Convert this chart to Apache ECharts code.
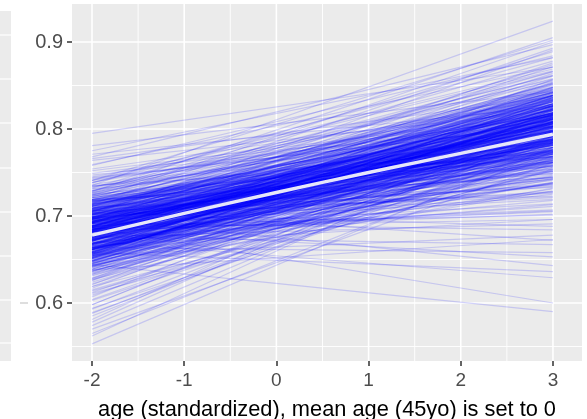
<!DOCTYPE html>
<html>
<head>
<meta charset="utf-8">
<script src="https://cdn.jsdelivr.net/npm/echarts@6/dist/echarts.min.js"></script>
<style>
html,body{margin:0;padding:0;background:#ffffff;}
#chart{width:587px;height:419px;}
</style>
</head>
<body>
<div id="chart"></div>
<script>
// ---- data ----
const xTicks = [-2, -1, 0, 1, 2, 3];
const xMinor = [-1.5, -0.5, 0.5, 1.5, 2.5];
const yTicks = [0.6, 0.7, 0.8, 0.9];
const yMinor = [0.55, 0.65, 0.75, 0.85];
const xTitle = 'age (standardized), mean age (45yo) is set to 0';

// each posterior draw: value at x = -2 (drawStart) and at x = 3 (drawEnd)
const drawX = [-2, 3];
const drawStart = [
.702,.665,.688,.721,.643,.676,.739,.655,.694,.617,.683,.711,.648,.699,.759,
.672,.706,.633,.689,.727,.658,.598,.681,.714,.662,.693,.641,.745,.676,.622,
.685,.717,.651,.697,.669,.732,.637,.703,.679,.626,.709,.664,.692,.647,.724,
.574,.691,.656,.719,.674,.638,.704,.686,.661,.741,.699,.652,.612,.679,.729,
.667,.696,.642,.713,.684,.657,.723,.631,.701,.674,.645,.708,.754,.688,.619,
.694,.663,.726,.681,.649,.711,.604,.671,.735,.659,.697,.636,.718,.683,.653,
.677,.705,.644,.687,.716,.662,.628,.693,.671,.738,.654,.708,.682,.646,.722,
.661,.689,.741,.634,.702,.675,.715,.651,.696,.585,.668,.729,.642,.684,.706,
.673,.699,.657,.718,.639,.686,.764,.666,.703,.627,.691,.649,.712,.678,.734,
.655,.694,.682,.723,.641,.707,.669,.615,.688,.731,.652,.698,.676,.643,.714,
.687,.664,.709,.633,.679,.743,.658,.696,.672,.621,.701,.648,.725,.684,.593,
.668,.705,.645,.691,.719,.662,.683,.637,.711,.676,.752,.654,.695,.628,.704,
.681,.717,.659,.693,.638,.672,.729,.649,.702,.686,.565,.663,.736,.697,.675,
.652,.698,.685,.722,.644,.709,.667,.614,.692,.679,.747,.657,.713,.632,.689,
.671,.706,.639,.684,.727,.661,.697,.648,.718,.676,.603,.693,.656,.733,.682,
.694,.665,.711,.646,.688,.758,.673,.701,.629,.683,.716,.654,.696,.669,.724,
.678,.703,.641,.691,.659,.714,.685,.619,.699,.672,.738,.651,.707,.687,.664,
.697,.662,.721,.681,.636,.709,.675,.744,.653,.692,.578,.687,.726,.645,.702,
.669,.712,.656,.693,.731,.677,.624,.699,.685,.661,.717,.643,.689,.706,.674,
.688,.658,.703,.647,.679,.766,.694,.635,.716,.671,.698,.607,.682,.728,.663,
.701,.673,.734,.654,.691,.682,.719,.642,.696,.666,.589,.708,.677,.649,.725,
.684,.653,.712,.676,.695,.639,.705,.668,.749,.687,.626,.698,.661,.715,.683,
.795,.781,.775,.771,.768,.735,.553,.562,.570,.581,.588,.611,.609,.594,.598,
.728,.741,.719,.702,.644,.686,.671,.658,.697,.683,.664,.707,.676,.692,.655,
.681,.664,.697,.672,.709,.653,.688,.676,.701,.659,.692,.668,.714,.684,.647,
.673,.695,.661,.686,.705,.649,.679,.718,.666,.691,.656,.683,.699,.671,.688,
.667,.703,.677,.651,.694,.685,.662,.711,.674,.698,.643,.689,.658,.706,.679,
.693,.668,.682,.707,.655,.676,.699,.664,.721,.687,.671,.652,.696,.678,.713,
.684,.659,.701,.673,.692,.646,.687,.715,.669,.681,.704,.663,.675,.697,.656,
.677,.698,.665,.689,.709,.672,.654,.694,.683,.717,.661,.679,.702,.668,.691,
.686,.671,.705,.657,.693,.678,.699,.663,.688,.724,.674,.696,.652,.682,.708,
.669,.691,.676,.713,.659,.685,.702,.667,.694,.648,.681,.697,.673,.706,.662,
.692,.675,.658,.698,.684,.711,.666,.689,.679,.703,.655,.687,.672,.695,.719,
.663,.687,.709,.677,.694,.651,.682,.699,.668,.716,.686,.674,.692,.657,.704,
.679,.696,.664,.701,.684,.671,.707,.659,.689,.676,.698,.645,.682,.712,.667,
.688,.673,.714,.661,.697,.683,.653,.705,.678,.692,.667,.701,.685,.674,.721,
.676,.693,.668,.704,.681,.657,.698,.672,.711,.687,.662,.695,.679,.706,.651,
.691,.666,.684,.701,.677,.719,.662,.694,.673,.689,.708,.656,.685,.699,.671,
.683,.705,.669,.692,.658,.687,.674,.713,.696,.663,.681,.702,.677,.648,.694,
.672,.697,.686,.665,.709,.679,.693,.655,.688,.703,.668,.717,.682,.661,.699
];
const drawEnd = [
.812,.774,.843,.795,.758,.803,.826,.731,.788,.817,.769,.852,.742,.806,.871,
.785,.838,.764,.701,.819,.793,.807,.748,.866,.776,.822,.729,.835,.691,.781,
.827,.757,.799,.846,.713,.889,.771,.814,.753,.790,.831,.737,.802,.768,.858,
.796,.779,.822,.744,.809,.673,.849,.764,.786,.815,.727,.833,.798,.758,.878,
.762,.818,.801,.791,.738,.857,.774,.783,.841,.711,.805,.767,.829,.796,.752,
.808,.745,.862,.781,.824,.723,.789,.836,.768,.813,.754,.797,.844,.706,.778,
.817,.771,.739,.854,.793,.806,.825,.761,.799,.882,.784,.733,.819,.772,.839,
.798,.826,.869,.787,.744,.811,.776,.834,.762,.792,.725,.815,.782,.853,.749,
.803,.736,.787,.842,.769,.696,.821,.808,.775,.759,.861,.794,.829,.741,.807,
.832,.788,.754,.810,.773,.847,.718,.766,.837,.784,.801,.726,.819,.756,.893,
.779,.815,.763,.799,.842,.804,.747,.876,.791,.823,.735,.811,.772,.828,.795,
.766,.851,.791,.719,.834,.782,.808,.761,.825,.743,.817,.797,.864,.777,.688,
.812,.768,.836,.794,.732,.821,.857,.785,.749,.803,.774,.827,.816,.759,.839,
.789,.814,.707,.846,.771,.796,.829,.753,.872,.783,.809,.738,.822,.765,.801,
.743,.831,.792,.764,.855,.806,.728,.818,.787,.841,.776,.811,.751,.833,.782,
.809,.772,.797,.738,.826,.884,.755,.843,.791,.702,.818,.779,.804,.761,.848,
.823,.757,.808,.785,.839,.769,.714,.797,.832,.814,.867,.746,.793,.816,.728,
.801,.835,.774,.819,.786,.852,.763,.803,.771,.838,.812,.745,.828,.794,.781,
.737,.806,.823,.759,.861,.798,.776,.817,.734,.789,.845,.767,.807,.722,.813,
.792,.829,.751,.804,.775,.837,.816,.762,.799,.848,.783,.821,.705,.866,.788,
.818,.756,.795,.833,.742,.809,.787,.773,.824,.696,.779,.856,.802,.765,.831,
.773,.811,.842,.784,.721,.797,.874,.808,.815,.766,.827,.752,.784,.803,.839,
.871,.843,.882,.826,.897,.924,.779,.806,.761,.823,.793,.754,.784,.769,.812,
.905,.902,.900,.891,.590,.600,.629,.636,.643,.653,.658,.672,.667,.684,.678,
.803,.781,.822,.795,.768,.814,.789,.836,.776,.808,.751,.827,.798,.784,.817,
.792,.818,.773,.806,.839,.786,.811,.762,.829,.797,.782,.845,.771,.813,.802,
.824,.779,.807,.791,.815,.762,.832,.799,.787,.848,.809,.774,.821,.794,.769,
.786,.811,.828,.774,.802,.839,.791,.817,.805,.758,.826,.796,.781,.843,.812,
.819,.797,.766,.834,.804,.788,.851,.775,.813,.793,.829,.764,.807,.782,.823,
.798,.821,.784,.808,.772,.835,.816,.789,.826,.803,.778,.841,.795,.812,.761,
.809,.792,.827,.815,.783,.847,.801,.776,.831,.794,.818,.768,.806,.838,.787,
.814,.779,.803,.822,.796,.771,.842,.808,.785,.819,.799,.833,.774,.811,.791,
.783,.825,.807,.797,.836,.769,.813,.802,.848,.788,.824,.776,.817,.806,.794,
.821,.804,.776,.838,.792,.811,.829,.785,.803,.818,.767,.832,.798,.814,.781,
.799,.816,.788,.773,.827,.806,.842,.795,.812,.784,.837,.803,.819,.791,.809,
.805,.831,.789,.817,.778,.823,.801,.853,.793,.815,.786,.826,.774,.808,.797,
.816,.787,.809,.828,.795,.821,.772,.806,.839,.798,.813,.782,.826,.801,.779,
.793,.812,.834,.781,.818,.806,.796,.823,.787,.845,.802,.817,.775,.829,.808,
.807,.786,.824,.799,.815,.771,.836,.803,.792,.819,.788,.811,.833,.797,.784,
.819,.805,.777,.829,.813,.794,.822,.808,.789,.834,.801,.785,.816,.827,.798
];

// mean curve (white)
const meanX = [-2, -1, 0, 1, 2, 3];
const meanY = [0.678, 0.703, 0.727, 0.750, 0.772, 0.794];

// ---- chart ----
const X_MIN = -2.217, X_MAX = 3.315, Y_MIN = 0.53333, Y_MAX = 0.94368;
const chart = echarts.init(document.getElementById('chart'), null, {renderer: 'canvas'});

const series = [];
// panel grid lines (white), drawn under the draws
function gridSeries(points, width) {
  return {type: 'line', data: points, symbol: 'none', showSymbol: false, silent: true, z: 1,
    lineStyle: {color: '#ffffff', width: width, type: 'solid'}};
}
xTicks.forEach(v => series.push(gridSeries([[v, Y_MIN], [v, Y_MAX]], 1.6)));
xMinor.forEach(v => series.push(gridSeries([[v, Y_MIN], [v, Y_MAX]], 0.9)));
yTicks.forEach(v => series.push(gridSeries([[X_MIN, v], [X_MAX, v]], 1.6)));
yMinor.forEach(v => series.push(gridSeries([[X_MIN, v], [X_MAX, v]], 0.9)));

for (let i = 0; i < drawStart.length; i++) {
  series.push({
    type: 'line',
    data: [[drawX[0], drawStart[i]], [drawX[1], drawEnd[i]]],
    symbol: 'none',
    showSymbol: false,
    silent: true,
    z: 3,
    lineStyle: {color: '#0000ff', width: 1.2, opacity: 0.16}
  });
}
series.push({
  type: 'line',
  data: meanX.map((x, i) => [x, meanY[i]]),
  symbol: 'none',
  showSymbol: false,
  smooth: true,
  silent: true,
  z: 4,
  lineStyle: {color: '#e6e6fa', width: 3.4, opacity: 1}
});

chart.setOption({
  animation: false,
  backgroundColor: '#ffffff',
  grid: {left: 72, right: 5, top: 4, bottom: 58, show: true, backgroundColor: '#ebebeb', borderWidth: 0,
    containLabel: false, outerBoundsMode: 'none'},
  xAxis: {
    type: 'value',
    min: X_MIN, max: X_MAX,
    axisLine: {show: false, onZero: false},
    splitLine: {show: false},
    axisTick: {show: true, customValues: xTicks, length: 5, lineStyle: {color: '#333333', width: 1.5}},
    axisLabel: {customValues: xTicks, color: '#4d4d4d', fontSize: 19, fontFamily: 'Liberation Sans', margin: 10,
      formatter: v => String(v)},
    name: xTitle,
    nameLocation: 'middle',
    nameGap: 38,
    nameTextStyle: {color: '#000000', fontSize: 21.8, fontFamily: 'Liberation Sans'}
  },
  yAxis: {
    type: 'value',
    min: Y_MIN, max: Y_MAX,
    axisLine: {show: false, onZero: false},
    splitLine: {show: false},
    axisTick: {show: true, customValues: yTicks, length: 5, lineStyle: {color: '#333333', width: 1.5}},
    axisLabel: {customValues: yTicks, color: '#4d4d4d', fontSize: 20, fontFamily: 'Liberation Sans', margin: 9,
      formatter: v => v.toFixed(1)}
  },
  graphic: [
    {type: 'rect', left: 0, top: 11, shape: {width: 11, height: 350}, style: {fill: '#ebebeb'}, silent: true},
    {type: 'group', children: [35, 79, 123, 168, 212, 256, 300, 343].map(y => ({
      type: 'line', shape: {x1: 0, y1: y, x2: 11, y2: y}, style: {stroke: '#ffffff', lineWidth: 1.2}, silent: true
    }))},
    {type: 'line', shape: {x1: 20, y1: 303, x2: 28, y2: 303}, style: {stroke: '#bdbdbd', lineWidth: 1}, silent: true}
  ],
  series: series
});
</script>
</body>
</html>
